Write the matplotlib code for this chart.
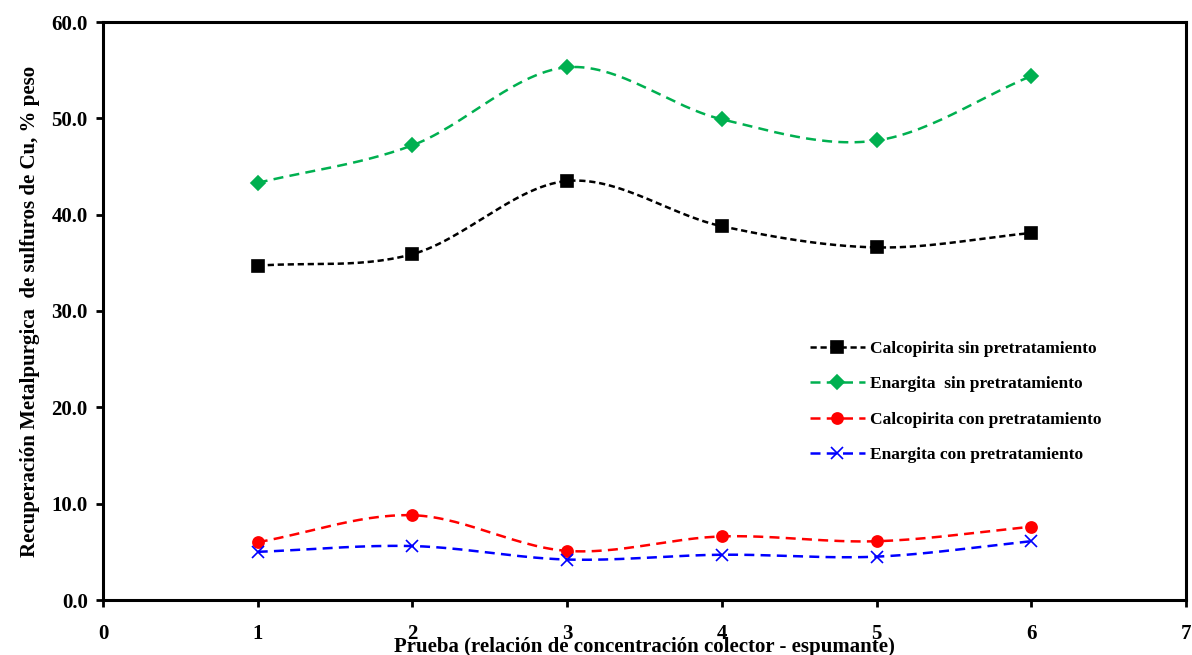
import numpy as np
import matplotlib.pyplot as plt

plt.rcParams['font.family'] = ['Liberation Serif', 'DejaVu Serif']
plt.rcParams['font.weight'] = 'bold'

prueba = [1, 2, 3, 4, 5, 6]
calco_sin = [34.7, 35.9, 43.5, 38.8, 36.6, 38.1]
enarg_sin = [43.3, 47.2, 55.3, 49.9, 47.7, 54.4]
calco_con = [6.0, 8.8, 5.1, 6.6, 6.1, 7.6]
enarg_con = [5.0, 5.6, 4.2, 4.7, 4.5, 6.1]

labels = ["Calcopirita sin pretratamiento",
          "Enargita  sin pretratamiento",
          "Calcopirita con pretratamiento",
          "Enargita con pretratamiento"]


def smooth(x, y, n=30):
    """Catmull-Rom style smoothing like Excel's smoothed lines."""
    x = np.asarray(x, float)
    y = np.asarray(y, float)
    px = np.concatenate([[2 * x[0] - x[1]], x, [2 * x[-1] - x[-2]]])
    py = np.concatenate([[2 * y[0] - y[1]], y, [2 * y[-1] - y[-2]]])
    xs, ys = [], []
    t = np.linspace(0, 1, n)
    for i in range(1, len(px) - 2):
        p0, p1, p2, p3 = py[i - 1], py[i], py[i + 1], py[i + 2]
        q0, q1, q2, q3 = px[i - 1], px[i], px[i + 1], px[i + 2]
        ys.append(0.5 * (2 * p1 + (-p0 + p2) * t + (2 * p0 - 5 * p1 + 4 * p2 - p3) * t**2
                         + (-p0 + 3 * p1 - 3 * p2 + p3) * t**3))
        xs.append(0.5 * (2 * q1 + (-q0 + q2) * t + (2 * q0 - 5 * q1 + 4 * q2 - q3) * t**2
                         + (-q0 + 3 * q1 - 3 * q2 + q3) * t**3))
    return np.concatenate(xs), np.concatenate(ys)


fig = plt.figure(figsize=(11.92, 6.55), dpi=100)
ax = fig.add_axes([103 / 1192, 55 / 655, 1083 / 1192, 578 / 655])

series = [
    (calco_sin, 'black', 's', (0, (2.5, 1.5)), 8),
    (enarg_sin, '#00B050', 'D', (0, (4, 2.5)), 7),
    (calco_con, 'red', 'o', (0, (4, 2.5)), 8),
    (enarg_con, 'blue', 'x', (0, (4, 2.5)), 8),
]
handles = []
for (vals, col, mk, ls, ms), lab in zip(series, labels):
    sx, sy = smooth(prueba, vals)
    ax.plot(sx, sy, color=col, linestyle=ls, linewidth=1.8)
    ax.plot(prueba, vals, linestyle='none', marker=mk, color=col,
            markersize=ms, markeredgewidth=1.2)
    h, = ax.plot([], [], color=col, linestyle=ls, linewidth=1.8,
                 marker=mk, markersize=ms, markeredgewidth=1.2)
    handles.append(h)

ax.set_xlim(0, 7)
ax.set_ylim(0, 60)
ax.set_xticks(range(0, 8))
ax.set_yticks(np.arange(0, 61, 10))
ax.set_yticklabels([f"{v:.1f}" for v in np.arange(0, 61, 10)])
ax.tick_params(direction='out', length=5, width=2, labelsize=15, pad=12)
ax.tick_params(axis='y', pad=6)
for sp in ax.spines.values():
    sp.set_linewidth(2.2)

ax.set_xlabel("Prueba (relación de concentración colector - espumante)",
              fontsize=15, fontweight='bold', labelpad=-5)
ax.set_ylabel("Recuperación Metalpurgica  de sulfuros de Cu, % peso",
              fontsize=15, fontweight='bold', labelpad=8)

ax.legend(handles, labels, loc='upper left', bbox_to_anchor=(0.638, 0.475),
          frameon=False, handlelength=3.2, handletextpad=0.3,
          labelspacing=1.1, prop={'weight': 'bold', 'size': 12.5})

fig.savefig("out.png", dpi=100)
